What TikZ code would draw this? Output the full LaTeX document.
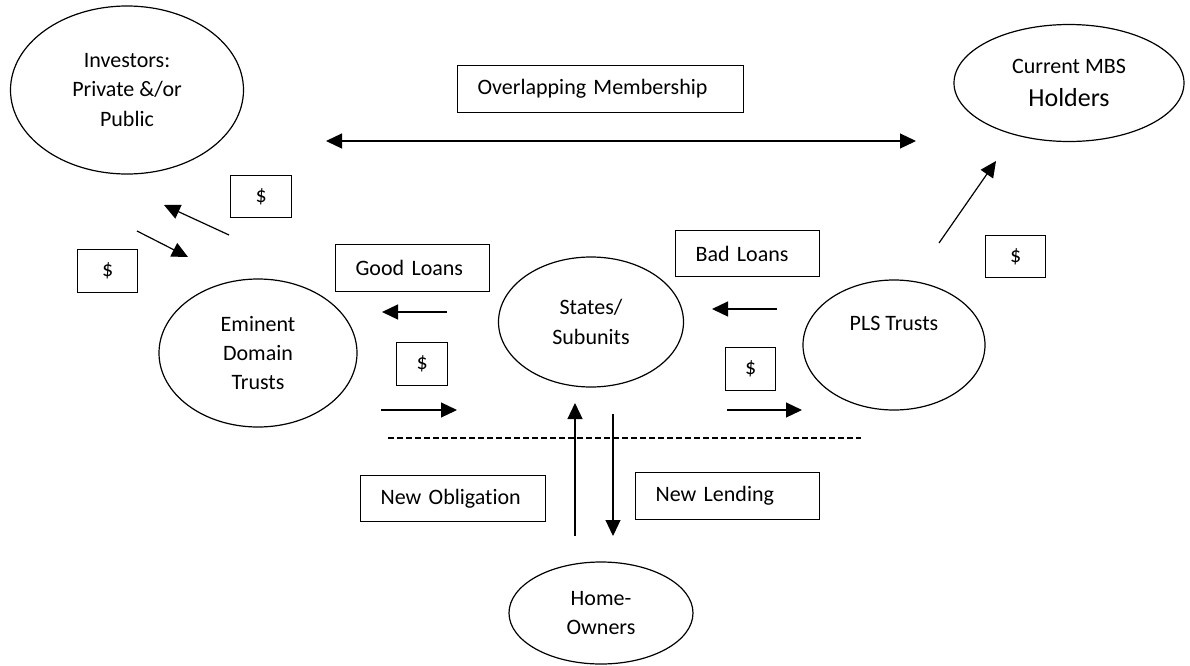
\documentclass[tikz,border=0pt]{standalone}
\usepackage{fontspec}
\setmainfont{Carlito}[Ligatures=NoCommon]
\usetikzlibrary{arrows.meta,shapes.geometric}
\begin{document}
\begin{tikzpicture}[x=0.5pt, y=-0.5pt, line width=0.6pt,
    font=\fontsize{11}{14.6}\selectfont,
    party/.style={draw, ellipse, inner sep=0pt, align=center},
    tag/.style={draw, rectangle, anchor=north west, inner xsep=10pt, inner ysep=0pt, align=left},
    cash/.style={draw, rectangle, anchor=north west, inner sep=0pt, align=center},
    flow/.style={-{Triangle[length=8pt, width=7.5pt]}},
    twoway/.style={{Triangle[length=8pt, width=7.5pt]}-{Triangle[length=8pt, width=7.5pt]}}]
  \useasboundingbox (0,0) rectangle (1190,665);
  \node[party, minimum width=116.5pt, minimum height=84pt] (investors) at (127,90) {Investors:\\Private \&/or\\Public};
  \node[party, minimum width=115pt, minimum height=58.5pt] (holders) at (1069,83) {Current MBS\\[2pt]{\fontsize{13}{16}\selectfont Holders}};
  \node[party, minimum width=99pt, minimum height=74pt] (eminent) at (258,353) {Eminent\\Domain\\Trusts};
  \node[party, minimum width=92.5pt, minimum height=65pt] (states) at (591,322) {States/\\Subunits};
  \node[party, minimum width=91pt, minimum height=65pt] (pls) at (894,345) {PLS Trusts\\[7pt]~};
  \node[party, minimum width=92pt, minimum height=51pt] (owners) at (601,613) {Home-\\Owners};
  \node[tag, text width=123pt, minimum height=23.5pt] (overlap) at (457,65) {Overlapping Membership};
  \node[tag, text width=57pt, minimum height=23.5pt] (good) at (335,244) {Good Loans};
  \node[tag, text width=52pt, minimum height=23pt] (bad) at (675,230) {Bad Loans};
  \node[tag, text width=72.5pt, minimum height=23pt] (obligation) at (360,475) {New Obligation};
  \node[tag, text width=72pt, minimum height=23.5pt] (lending) at (635,472) {New Lending};
  \node[cash, minimum width=30.5pt, minimum height=21pt] (cash inv) at (230,175) {\$};
  \node[cash, minimum width=30pt, minimum height=21.5pt] (cash emi) at (77,249) {\$};
  \node[cash, minimum width=25.5pt, minimum height=21.5pt] (cash good) at (396,342) {\$};
  \node[cash, minimum width=25pt, minimum height=21.5pt] (cash bad) at (725,347) {\$};
  \node[cash, minimum width=30pt, minimum height=21pt] (cash mbs) at (985,235) {\$};
  \coordinate (member west) at (326,141);
  \coordinate (member east) at (916,141);
  \coordinate (repay from) at (229,235);
  \coordinate (repay to) at (164,205);
  \coordinate (fund from) at (137,231);
  \coordinate (fund to) at (188,257);
  \coordinate (good from) at (447,312);
  \coordinate (good to) at (382,312);
  \coordinate (bad from) at (777,309);
  \coordinate (bad to) at (712,309);
  \coordinate (pay good from) at (381,410);
  \coordinate (pay good to) at (457,410);
  \coordinate (pay bad from) at (727,410);
  \coordinate (pay bad to) at (802,410);
  \coordinate (mbs from) at (939,243);
  \coordinate (mbs to) at (996,161);
  \coordinate (oblig from) at (575,536);
  \coordinate (oblig to) at (575,403);
  \coordinate (lend from) at (613,414);
  \coordinate (lend to) at (613,536);
  \coordinate (divide west) at (388,438);
  \coordinate (divide east) at (861,438);
  \draw[twoway] (member west) -- (member east);
  \draw[flow] (repay from) -- (repay to);
  \draw[flow] (fund from) -- (fund to);
  \draw[flow] (good from) -- (good to);
  \draw[flow] (bad from) -- (bad to);
  \draw[flow] (pay good from) -- (pay good to);
  \draw[flow] (pay bad from) -- (pay bad to);
  \draw[flow] (mbs from) -- (mbs to);
  \draw[flow] (oblig from) -- (oblig to);
  \draw[flow] (lend from) -- (lend to);
  \draw[dash pattern=on 3pt off 1.5pt] (divide west) -- (divide east);
\end{tikzpicture}
\end{document}
